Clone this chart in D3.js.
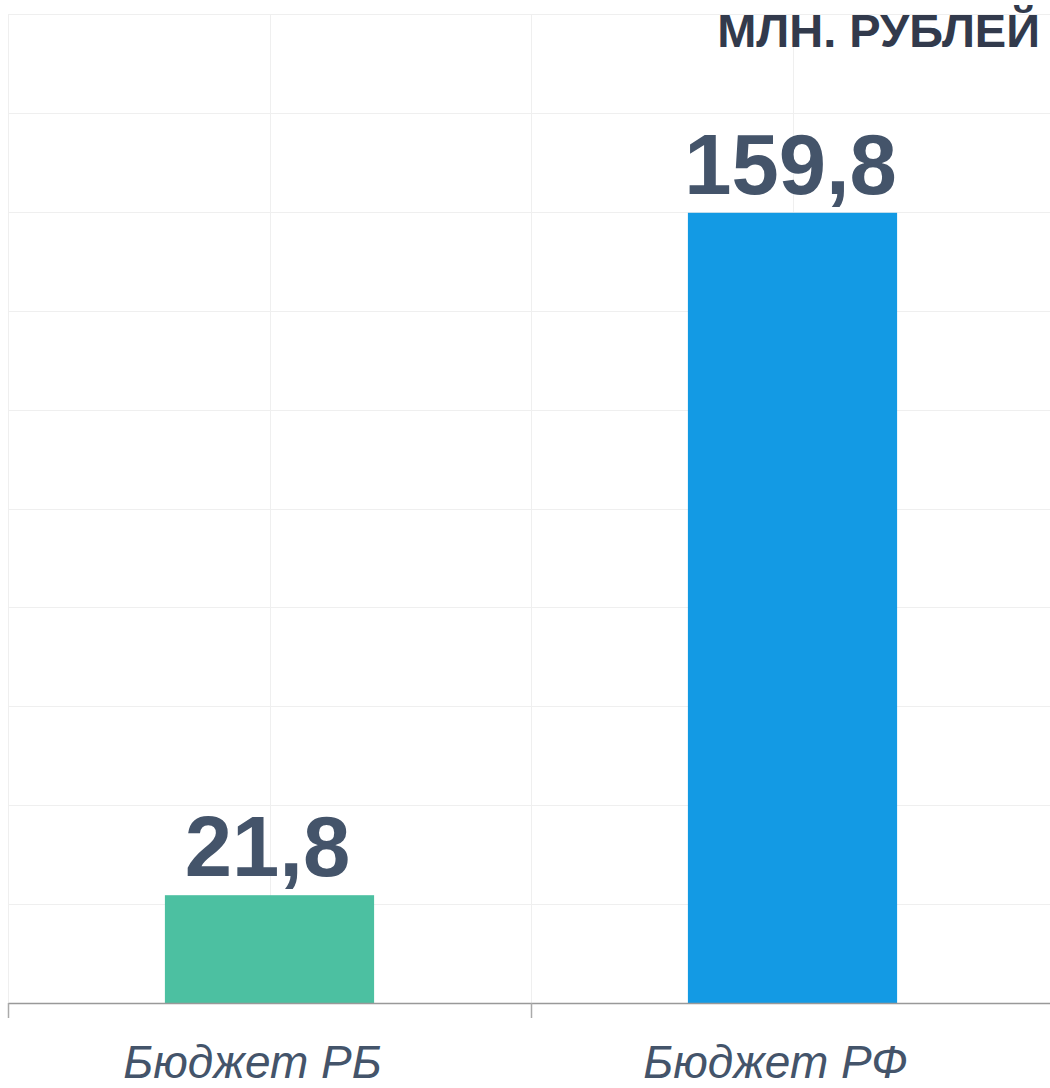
<!DOCTYPE html>
<html>
<head>
<meta charset="utf-8">
<script src="https://d3js.org/d3.v7.min.js"></script>
<style>
body{margin:0;background:#fff;}
</style>
</head>
<body>
<div class="canvas"></div>
<script>
// chart data
const categories=['Бюджет РБ','Бюджет РФ'];
const values=[21.8,159.8];
const valueLabels=['21,8','159,8'];
const barColors=['#4cc0a1','#139ae4'];
const yTicks=[0,20,40,60,80,100,120,140,160,180,200];
const unitTitle='МЛН. РУБЛЕЙ';

const dims={width:1050,height:1088};
const plot={left:8,right:1054,top:14,bottom:1003};

const svg=d3.select('.canvas')
.append('svg')
.attr('width',dims.width)
.attr('height',dims.height)
.style('font-family','"Liberation Sans", Arial, sans-serif');

const x=d3.scaleBand()
.domain(categories)
.range([plot.left,plot.right]);

const y=d3.scaleLinear()
.domain([0,200])
.range([plot.bottom,plot.top]);

const grid=svg.append('g');

// horizontal gridlines
grid.selectAll('line.h')
.data(yTicks)
.enter().append('line')
.attr('class','h')
.attr('x1',plot.left).attr('x2',plot.right)
.attr('y1',d=>Math.round(y(d))+0.5).attr('y2',d=>Math.round(y(d))+0.5)
.attr('stroke','#efefef');

// vertical gridlines: band edges + band centres
const vx=[];
categories.forEach(c=>{vx.push(x(c));vx.push(x(c)+x.bandwidth()/2);});
grid.selectAll('line.v')
.data(vx)
.enter().append('line')
.attr('class','v')
.attr('x1',d=>Math.round(d)+0.5).attr('x2',d=>Math.round(d)+0.5)
.attr('y1',plot.top).attr('y2',plot.bottom)
.attr('stroke','#efefef');

// bars
const barW=x.bandwidth()*0.4;
svg.selectAll('rect.bar')
.data(values)
.enter().append('rect')
.attr('class','bar')
.attr('x',(d,i)=>x(categories[i])+x.bandwidth()/2-barW/2)
.attr('y',d=>y(d))
.attr('width',barW)
.attr('height',d=>y(0)-y(d))
.attr('fill',(d,i)=>barColors[i]);

// value labels
svg.selectAll('text.val')
.data(values)
.enter().append('text')
.attr('class','val')
.attr('x',(d,i)=>x(categories[i])+x.bandwidth()/2-2)
.attr('y',d=>y(d)-19)
.attr('text-anchor','middle')
.attr('font-size',85)
.attr('font-weight','bold')
.attr('fill','#44546a')
.text((d,i)=>valueLabels[i]);

// x axis
const xAxis=d3.axisBottom(x).tickSize(0).tickFormat('');
const axisG=svg.append('g')
.attr('transform',`translate(0,${plot.bottom})`)
.call(xAxis);
axisG.select('.domain').attr('stroke','#999').attr('stroke-width',1.5);

// boundary ticks
svg.selectAll('line.tick')
.data(categories)
.enter().append('line')
.attr('class','tick')
.attr('x1',d=>Math.round(x(d))+0.5).attr('x2',d=>Math.round(x(d))+0.5)
.attr('y1',plot.bottom).attr('y2',plot.bottom+15)
.attr('stroke','#aaa').attr('stroke-width',1.5);

// category labels
svg.selectAll('text.cat')
.data(categories)
.enter().append('text')
.attr('class','cat')
.attr('x',d=>x(d)+x.bandwidth()/2-17)
.attr('y',1078)
.attr('text-anchor','middle')
.attr('font-size',46)
.attr('font-style','italic')
.attr('fill','#44546a')
.text(d=>d);

// unit title
svg.append('text')
.attr('x',1040)
.attr('y',47)
.attr('text-anchor','end')
.attr('font-size',47)
.attr('font-weight','bold')
.attr('fill','#323a4c')
.text(unitTitle);
</script>
</body>
</html>
